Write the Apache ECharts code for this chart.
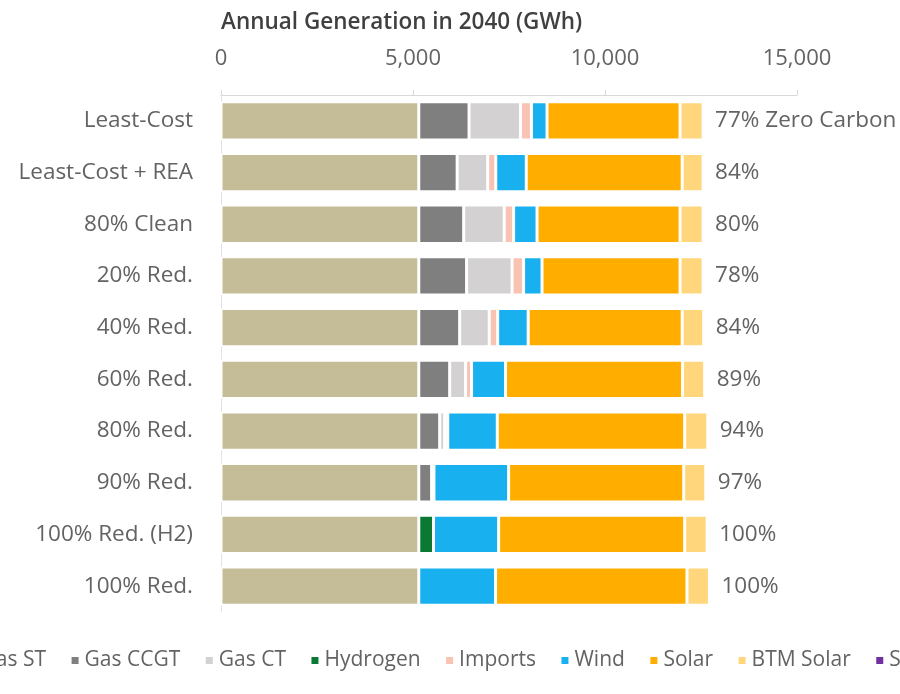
<!DOCTYPE html>
<html>
<head>
<meta charset="utf-8">
<script src="https://cdn.jsdelivr.net/npm/echarts@6/dist/echarts.min.js"></script>
<style>
  html, body { margin: 0; padding: 0; background: #ffffff; }
  #chart { width: 900px; height: 694px; }
</style>
</head>
<body>
<div id="chart"></div>
<script>
// Scenario names (top to bottom)
const categories = ['Least-Cost', 'Least-Cost + REA', '80% Clean', '20% Red.', '40% Red.',
  '60% Red.', '80% Red.', '90% Red.', '100% Red. (H2)', '100% Red.'];

// Annual generation in 2040 by resource (GWh)
const nuclear  = [5150, 5150, 5150, 5150, 5150, 5150, 5150, 5150, 5150, 5150];
const gasST    = [0, 0, 0, 0, 0, 0, 0, 0, 0, 0];
const gasCCGT  = [1310, 1000, 1170, 1245, 1065, 805, 545, 335, 0, 0];
const gasCT    = [1340, 795, 1055, 1185, 770, 415, 130, 60, 0, 0];
const hydrogen = [0, 0, 0, 0, 0, 0, 0, 0, 385, 0];
const imports  = [285, 210, 245, 300, 220, 155, 80, 0, 0, 0];
const wind     = [405, 795, 610, 480, 795, 885, 1290, 1945, 1695, 2000];
const solar    = [3465, 4060, 3725, 3595, 4010, 4610, 4880, 4560, 4845, 4985];
const btmSolar = [600, 545, 600, 600, 560, 575, 600, 575, 585, 585];
const storage  = [0, 0, 0, 0, 0, 0, 0, 0, 0, 0];

// Zero-carbon share shown at the end of each bar
const zeroCarbon = ['77% Zero Carbon', '84%', '80%', '78%', '84%', '89%', '94%', '97%', '100%', '100%'];

// Axis ticks
const xTicks = [0, 5000, 10000, 15000];

const resources = [
  { name: 'Nuclear',   data: nuclear,  color: '#c4bd97' },
  { name: 'Gas ST',    data: gasST,    color: '#3f3f3f' },
  { name: 'Gas CCGT',  data: gasCCGT,  color: '#7f7f7f' },
  { name: 'Gas CT',    data: gasCT,    color: '#d3d1d1' },
  { name: 'Hydrogen',  data: hydrogen, color: '#0a7a33' },
  { name: 'Imports',   data: imports,  color: '#f8c3b3' },
  { name: 'Wind',      data: wind,     color: '#19b0ef' },
  { name: 'Solar',     data: solar,    color: '#ffae00' },
  { name: 'BTM Solar', data: btmSolar, color: '#ffd67c' },
  { name: 'Storage',   data: storage,  color: '#7030a0' }
];

const FONT = '"Open Sans", sans-serif';
const TEXT = '#636363';

const series = resources.map(r => {
  const s = {
    name: r.name,
    type: 'bar',
    stack: 'gen',
    barCategoryGap: '26%',
    data: r.data,
    itemStyle: { color: r.color, borderColor: '#ffffff', borderWidth: 1.5 },
    emphasis: { disabled: true },
    animation: false
  };
  if (r.name === 'BTM Solar') {
    s.label = {
      show: true,
      position: 'right',
      distance: 12,
      color: TEXT,
      fontFamily: FONT,
      fontSize: 22.5,
      formatter: p => zeroCarbon[p.dataIndex]
    };
  }
  return s;
});

const chart = echarts.init(document.getElementById('chart'), null, { renderer: 'canvas' });
chart.setOption({
  backgroundColor: '#ffffff',
  title: {
    text: 'Annual Generation in 2040 (GWh)',
    left: 216,
    top: 6,
    textStyle: { color: '#404040', fontFamily: FONT, fontSize: 22.5, fontWeight: 600 }
  },
  grid: { left: 221, right: 103, top: 95, bottom: 82, containLabel: false },
  xAxis: {
    type: 'value',
    position: 'top',
    min: xTicks[0],
    max: xTicks[xTicks.length - 1],
    interval: xTicks[1] - xTicks[0],
    axisLine: { show: true, lineStyle: { color: '#d9d9d9', width: 1 } },
    axisTick: { show: true, length: 5, lineStyle: { color: '#d9d9d9' } },
    splitLine: { show: false },
    axisLabel: {
      color: TEXT,
      fontFamily: FONT,
      fontSize: 22,
      margin: 25,
      formatter: v => v.toLocaleString('en-US')
    }
  },
  yAxis: {
    type: 'category',
    inverse: true,
    data: categories,
    axisLine: { show: true, lineStyle: { color: '#e3e3e3' } },
    axisTick: { show: false },
    axisLabel: { color: TEXT, fontFamily: FONT, fontSize: 22.5, margin: 28 }
  },
  legend: {
    data: resources.map(r => r.name),
    left: -154,
    bottom: 18,
    width: 1600,
    icon: 'rect',
    itemWidth: 9,
    itemHeight: 9,
    itemGap: 23.5,
    selectedMode: false,
    textStyle: { color: TEXT, fontFamily: FONT, fontSize: 21 }
  },
  series: series
});
</script>
</body>
</html>
